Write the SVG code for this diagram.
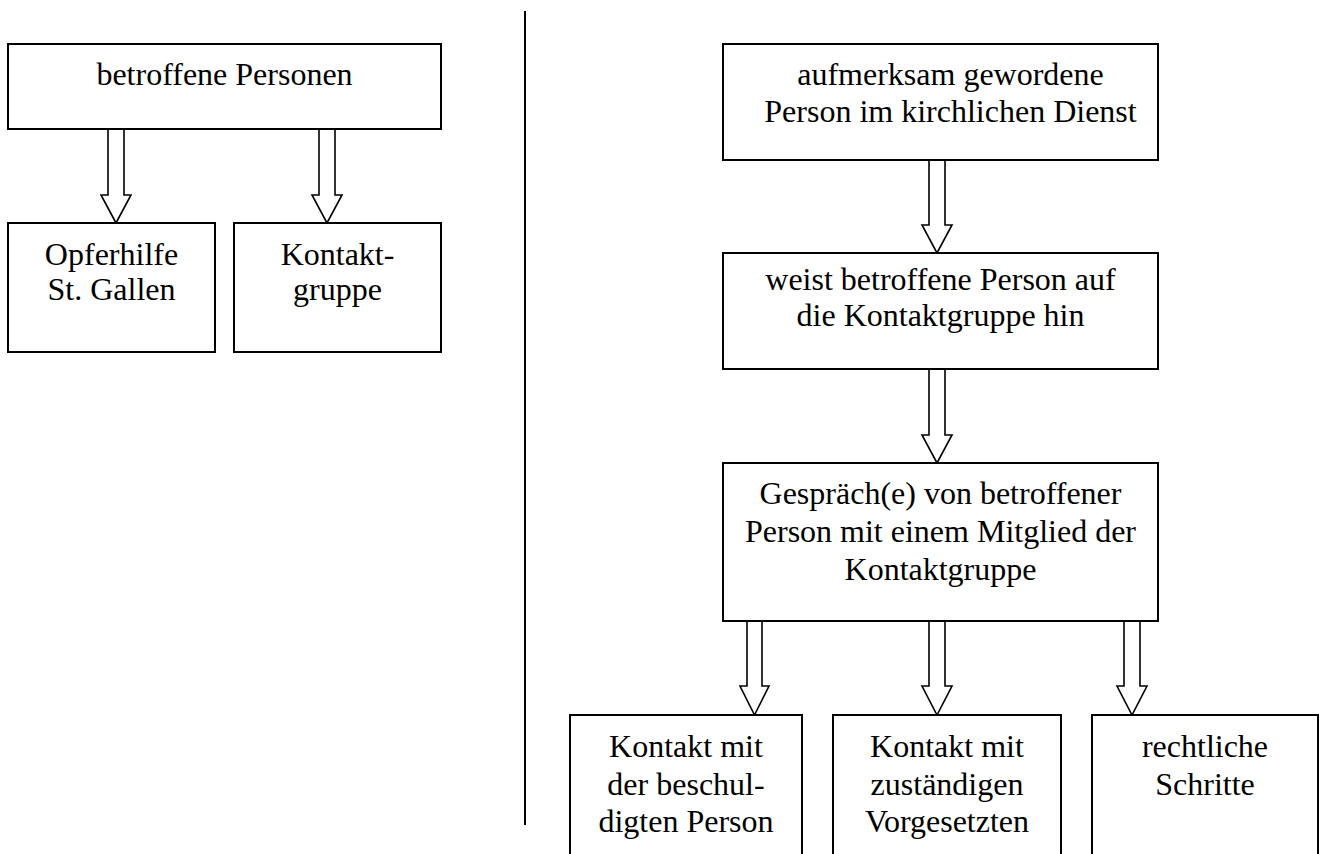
<svg xmlns="http://www.w3.org/2000/svg" width="1319" height="854" viewBox="0 0 1319 854">
<style>
  .box { fill: #ffffff; stroke: #000000; stroke-width: 2; }
  .arrow { fill: #ffffff; stroke: #000000; stroke-width: 1.6; stroke-linejoin: miter; }
  .lbl { font-family: "Liberation Serif", "Times New Roman", serif; font-size: 32px; fill: #000000; text-anchor: middle; }
  .divider { stroke: #000000; stroke-width: 2; }
</style>
<rect width="1319" height="854" fill="#ffffff"/>
<line class="divider" x1="525" y1="11" x2="525" y2="825"/>

<g id="connectors">
  <polyline class="arrow" points="108,129 108,195 101,195 116,223 131,195 124,195 124,129"/>
  <polyline class="arrow" points="319,129 319,195 312,195 327,223 342,195 335,195 335,129"/>
  <polyline class="arrow" points="929,160 929,225 922,225 937,253 952,225 945,225 945,160"/>
  <polyline class="arrow" points="929,369 929,435 922,435 937,463 952,435 945,435 945,369"/>
  <polyline class="arrow" points="747,621 747,686 740,686 754.5,715 769,686 762,686 762,621"/>
  <polyline class="arrow" points="929,621 929,686 922,686 937,715 952,686 945,686 945,621"/>
  <polyline class="arrow" points="1124,621 1124,686 1117,686 1132,715 1147,686 1140,686 1140,621"/>
</g>

<g id="node-betroffene">
  <rect class="box" x="8" y="44" width="433" height="85"/>
  <text class="lbl" x="224.5" y="85">betroffene Personen</text>
</g>
<g id="node-opferhilfe">
  <rect class="box" x="8" y="223" width="207" height="129"/>
  <text class="lbl" x="111.5" y="265">Opferhilfe</text>
  <text class="lbl" x="111.5" y="300">St. Gallen</text>
</g>
<g id="node-kontaktgruppe">
  <rect class="box" x="234" y="223" width="207" height="129"/>
  <text class="lbl" x="337.5" y="265">Kontakt-</text>
  <text class="lbl" x="337.5" y="300">gruppe</text>
</g>

<g id="node-aufmerksam">
  <rect class="box" x="723" y="44" width="435" height="116"/>
  <text class="lbl" x="950.5" y="85">aufmerksam gewordene</text>
  <text class="lbl" x="950.5" y="122">Person im kirchlichen Dienst</text>
</g>
<g id="node-weist">
  <rect class="box" x="723" y="253" width="435" height="116"/>
  <text class="lbl" x="940.5" y="290">weist betroffene Person auf</text>
  <text class="lbl" x="940.5" y="326">die Kontaktgruppe hin</text>
</g>
<g id="node-gespraech">
  <rect class="box" x="723" y="463" width="435" height="158"/>
  <text class="lbl" x="940.5" y="504">Gespräch(e) von betroffener</text>
  <text class="lbl" x="940.5" y="542">Person mit einem Mitglied der</text>
  <text class="lbl" x="940.5" y="580">Kontaktgruppe</text>
</g>

<g id="node-beschuldigte">
  <rect class="box" x="570" y="715" width="232" height="150"/>
  <text class="lbl" x="686" y="757">Kontakt mit</text>
  <text class="lbl" x="686" y="795">der beschul-</text>
  <text class="lbl" x="686" y="832">digten Person</text>
</g>
<g id="node-vorgesetzte">
  <rect class="box" x="833" y="715" width="228" height="150"/>
  <text class="lbl" x="947" y="757">Kontakt mit</text>
  <text class="lbl" x="947" y="795">zuständigen</text>
  <text class="lbl" x="947" y="832">Vorgesetzten</text>
</g>
<g id="node-rechtliche">
  <rect class="box" x="1092" y="715" width="226" height="150"/>
  <text class="lbl" x="1205" y="757">rechtliche</text>
  <text class="lbl" x="1205" y="795">Schritte</text>
</g>
</svg>
